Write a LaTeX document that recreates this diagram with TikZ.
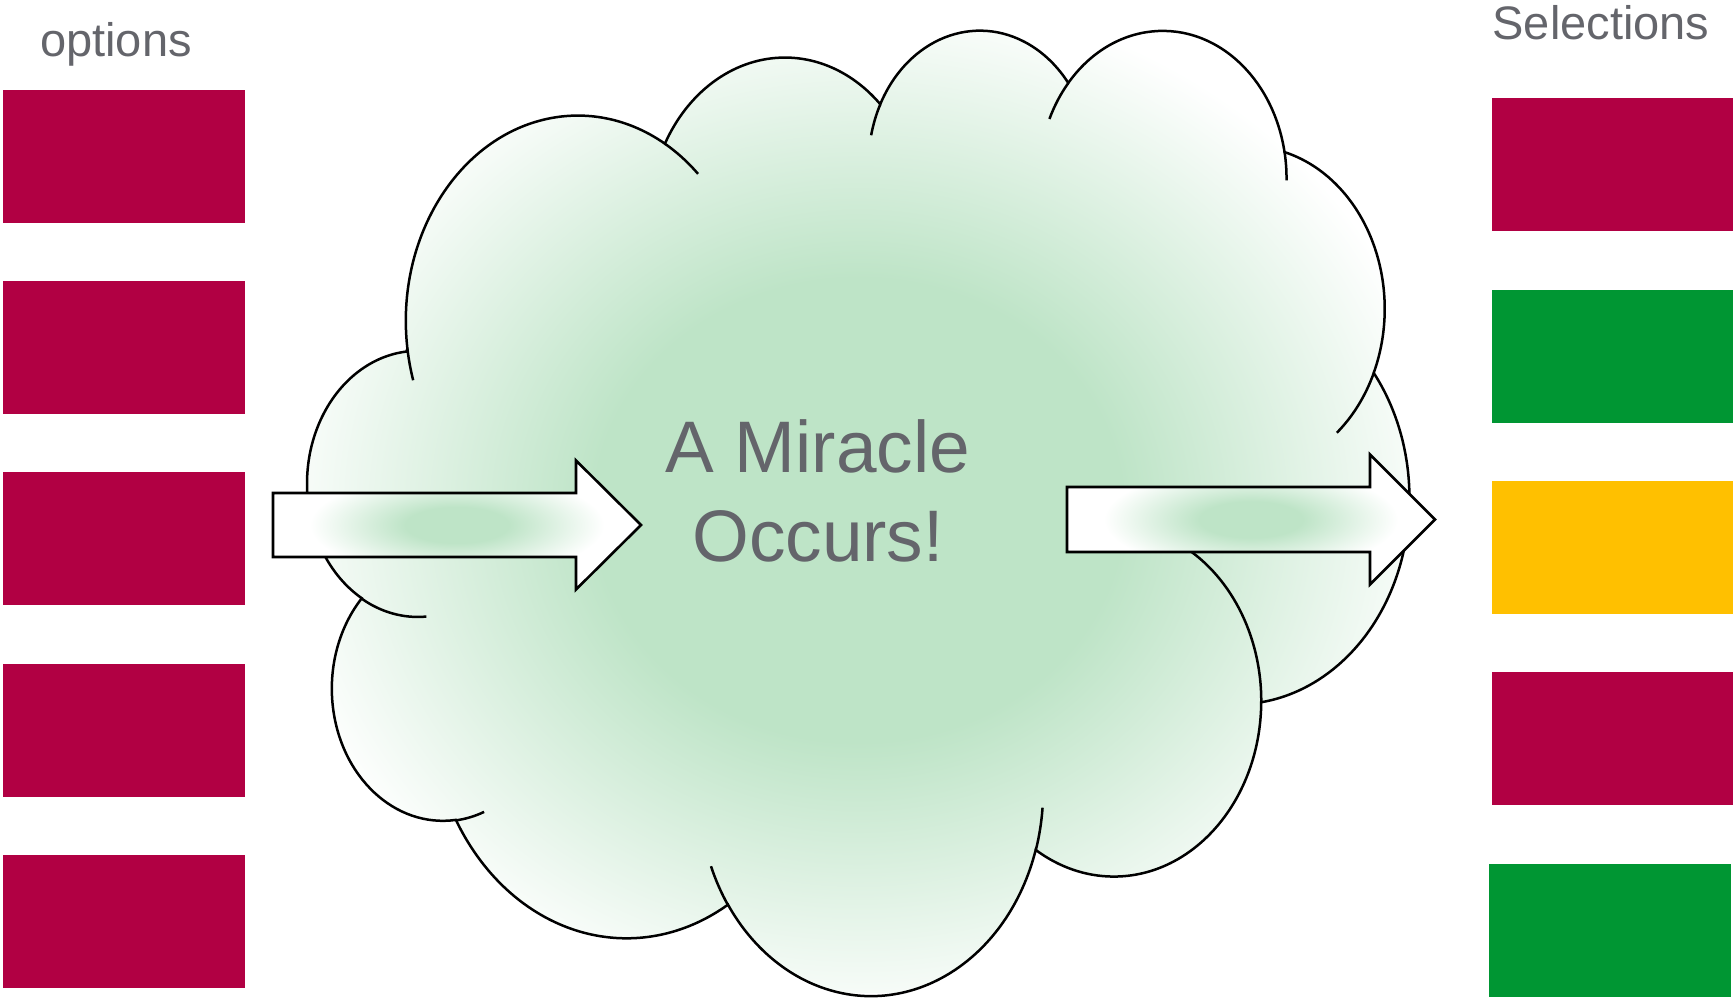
\documentclass[tikz,border=0pt]{standalone}
\usepackage{fontspec}
\setmainfont{Liberation Sans}
\definecolor{crimson}{RGB}{177,0,67}
\definecolor{leafgreen}{RGB}{0,150,51}
\definecolor{amber}{RGB}{255,192,0}
\definecolor{textgray}{RGB}{100,101,107}
\definecolor{glow}{RGB}{190,228,199}
\pgfdeclareradialshading{cloudglow}{\pgfpoint{0bp}{0bp}}{color(0bp)=(glow); color(12bp)=(glow); color(27bp)=(white); color(50bp)=(white)}
\pgfdeclareradialshading{arrowglow}{\pgfpoint{0bp}{0bp}}{color(0bp)=(glow); color(7bp)=(glow); color(20bp)=(white); color(50bp)=(white)}
\newcommand{\cloudpath}{(39.00,143.70)
  arc[start angle=-187.745, end angle=-59.640, x radius=67.53, y radius=91.90]
  arc[start angle=-152.016, end angle=-45.452, x radius=53.33, y radius=72.67]
  arc[start angle=-153.485, end angle=-37.327, x radius=43.65, y radius=59.45]
  arc[start angle=-139.718, end angle=-10.211, x radius=48.57, y radius=65.95]
  arc[start angle=-74.767, end angle=23.209, x radius=53.33, y radius=72.73]
  arc[start angle=-37.526, end angle=81.863, x radius=67.75, y radius=92.20]
  arc[start angle=0.460, end angle=121.982, x radius=57.85, y radius=78.67]
  arc[start angle=16.845, end angle=146.240, x radius=67.52, y radius=92.15]
  arc[start angle=58.985, end angle=150.183, x radius=77.20, y radius=105.43]
  arc[start angle=-276.694, end angle=-136.894, x radius=43.60, y radius=59.18]
  arc[start angle=-239.645, end angle=-95.887, x radius=43.45, y radius=59.45]
  -- cycle}
\newcommand{\cloudtail}[6]{\draw[cloudline] (#1,#2) ++(#5:#3 and #4) arc[start angle=#5, end angle=#6, x radius=#3, y radius=#4];}

\begin{document}
\begin{tikzpicture}[x=1pt,y=-1pt,
  optbox/.style={fill=#1, minimum width=242pt, minimum height=133pt, inner sep=0pt, anchor=north west},
  heading/.style={text=textgray, font=\fontsize{47}{56}\selectfont, anchor=base, inner sep=0pt},
  cloudline/.style={draw=black, line width=2.5pt},
  blockarrow/.style={draw=black, line width=2.6pt, shading=arrowglow}]
  \useasboundingbox (0,0) rectangle (1733,998);
  \node[heading] (options) at (116,57) {options};
  \node[heading] (selections) at (1601,40) {Selections};
  \foreach \i in {0,...,4}
    \node[optbox=crimson] (opt\i) at (3,89.5+191.3*\i) {};
  \foreach \c [count=\i from 0] in {crimson,leafgreen,amber,crimson}
    \node[optbox=\c] (sel\i) at (1492,98+191.3*\i) {};
  \node[optbox=leafgreen] (sel4) at (1489,864) {};
  % the cloud
  \begin{scope}[shift={(308,27.5)}, x=2.5486pt, y=-2.234pt]
    \begin{scope}
      \clip \cloudpath;
      \shade[shading=cloudglow] (0,0) rectangle (432,432);
    \end{scope}
    \draw[cloudline] \cloudpath;
    \cloudtail{43.06}{204.41}{43.45}{59.45}{85.547}{120.355}
    \cloudtail{52.93}{296.15}{43.60}{59.18}{68.236}{83.306}
    \cloudtail{220.93}{341.63}{67.52}{92.15}{146.240}{158.474}
    \cloudtail{220.93}{341.63}{67.52}{92.15}{4.738}{16.845}
    \cloudtail{316.19}{301.60}{57.85}{78.67}{-64.021}{0.460}
    \cloudtail{369.17}{125.97}{53.33}{72.73}{23.209}{49.638}
    \cloudtail{335.38}{67.48}{48.57}{65.95}{-10.211}{0.820}
    \cloudtail{335.38}{67.48}{48.57}{65.95}{-156.278}{-139.718}
    \cloudtail{263.62}{60.88}{43.65}{59.45}{-167.725}{-153.485}
    \cloudtail{105.91}{131.32}{67.53}{91.90}{-59.640}{-45.728}
    \cloudtail{105.91}{131.32}{67.53}{91.90}{163.194}{172.255}
  \end{scope}
  % block arrows in and out
  \shadedraw[blockarrow] (273,493) -- (576,493) -- (576,460.5) -- (641,525)
    -- (576,589.5) -- (576,557) -- (273,557) -- cycle;
  \shadedraw[blockarrow] (1067,487) -- (1370,487) -- (1370,454.5) -- (1435,519.5)
    -- (1370,584.5) -- (1370,552) -- (1067,552) -- cycle;
  \node[text=textgray, font=\fontsize{73}{89}\selectfont, anchor=base, inner sep=0pt] (miracle) at (818,472) {A Miracle};
  \node[text=textgray, font=\fontsize{73}{89}\selectfont, anchor=base, inner sep=0pt] (occurs) at (818,561) {Occurs!};
\end{tikzpicture}
\end{document}
